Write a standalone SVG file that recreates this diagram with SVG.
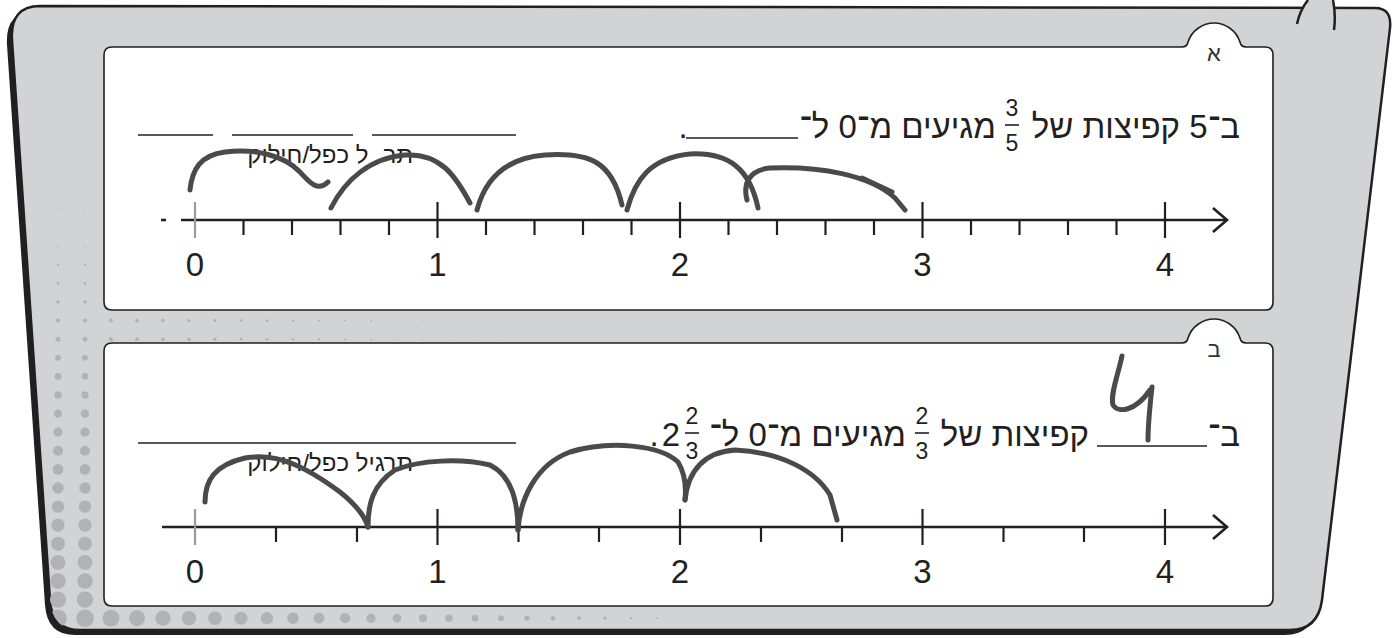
<svg xmlns="http://www.w3.org/2000/svg" width="1400" height="638" viewBox="0 0 1400 638">
<style>
.t{font-family:"Liberation Sans",Arial,"Noto Sans",sans-serif;fill:#231f20}
.h{font-size:33px}
.fr{font-size:23px}
.sm{font-size:24px}
.num{font-size:33px}
.tab{font-size:22px;fill:#333}
.ax{stroke:#231f20;stroke-width:2.6;fill:none}
.tk{stroke:#231f20;stroke-width:2.2}
.z{stroke:#9a9a9a;stroke-width:2.2}
.ln{stroke:#231f20;stroke-width:1.6}
.hw{fill:none;stroke:#4a4a4a;stroke-width:5;stroke-linecap:round;stroke-linejoin:round}
.pn{fill:#fff;stroke:#231f20;stroke-width:1.6}
.d{fill:#b1b2b4}
</style>
<defs>
<clipPath id="fc"><path d="M40,6 L1375,8 Q1392,8 1390,28 L1322,600 Q1318,630 1290,630 L80,630 Q52,630 50,600 L12,40 Q10,6 40,6 Z"/></clipPath>
</defs>
<g id="frame">
<path d="M40,6 L1375,8 Q1392,8 1390,28 L1322,600 Q1318,630 1290,630 L80,630 Q52,630 50,600 L12,40 Q10,6 40,6 Z" transform="translate(-5,5)" fill="#231f20"/>
<path d="M40,6 L1375,8 Q1392,8 1390,28 L1322,600 Q1318,630 1290,630 L80,630 Q52,630 50,600 L12,40 Q10,6 40,6 Z" fill="#d1d3d4" stroke="#231f20" stroke-width="2.5"/>
<path d="M1297,24 Q1300,10 1308,0 L1333,0 Q1336,15 1334,30 Z" fill="#d1d3d4"/>
<path d="M1297,24 Q1300,10 1308,0 M1333,0 Q1336,15 1334,30" fill="none" stroke="#231f20" stroke-width="2.5"/>
<g clip-path="url(#fc)" class="d">
<circle cx="58" cy="209" r="0.5"/><circle cx="85" cy="209" r="0.5"/>
<circle cx="58" cy="227.6" r="0.6"/><circle cx="85" cy="227.6" r="0.6"/>
<circle cx="58" cy="246.2" r="0.8"/><circle cx="85" cy="246.2" r="0.8"/>
<circle cx="58" cy="264.8" r="1.1"/><circle cx="85" cy="264.8" r="1.1"/>
<circle cx="58" cy="283.4" r="1.4"/><circle cx="85" cy="283.4" r="1.4"/>
<circle cx="58" cy="302" r="1.7"/><circle cx="85" cy="302" r="1.7"/>
<circle cx="58" cy="320.6" r="2.1"/><circle cx="85" cy="320.6" r="2.1"/>
<circle cx="58" cy="339.2" r="2.5"/><circle cx="85" cy="339.2" r="2.5"/>
<circle cx="58" cy="357.8" r="2.9"/><circle cx="85" cy="357.8" r="2.9"/>
<circle cx="58" cy="376.4" r="3.3"/><circle cx="85" cy="376.4" r="3.3"/>
<circle cx="58" cy="395" r="3.7"/><circle cx="85" cy="395" r="3.7"/>
<circle cx="58" cy="413.6" r="4.2"/><circle cx="85" cy="413.6" r="4.2"/>
<circle cx="58" cy="432.2" r="4.6"/><circle cx="85" cy="432.2" r="4.6"/>
<circle cx="58" cy="450.8" r="5"/><circle cx="85" cy="450.8" r="5"/>
<circle cx="58" cy="469.4" r="5.4"/><circle cx="85" cy="469.4" r="5.4"/>
<circle cx="58" cy="488" r="5.8"/><circle cx="85" cy="488" r="5.8"/>
<circle cx="58" cy="506.6" r="6.2"/><circle cx="85" cy="506.6" r="6.2"/>
<circle cx="58" cy="525.2" r="6.6"/><circle cx="85" cy="525.2" r="6.6"/>
<circle cx="58" cy="543.8" r="7"/><circle cx="85" cy="543.8" r="7"/>
<circle cx="58" cy="562.4" r="7.4"/><circle cx="85" cy="562.4" r="7.4"/>
<circle cx="58" cy="581" r="7.8"/><circle cx="85" cy="581" r="7.8"/>
<circle cx="58" cy="599.6" r="8.2"/><circle cx="85" cy="599.6" r="8.2"/>
<circle cx="58" cy="618.2" r="8.8"/><circle cx="85" cy="618.2" r="8.8"/>
<circle cx="111" cy="320.6" r="2"/><circle cx="137" cy="320.6" r="1.9"/><circle cx="163" cy="320.6" r="1.8"/><circle cx="189" cy="320.6" r="1.7"/><circle cx="215" cy="320.6" r="1.6"/><circle cx="241" cy="320.6" r="1.4"/><circle cx="267" cy="320.6" r="1.3"/><circle cx="293" cy="320.6" r="1.2"/><circle cx="319" cy="320.6" r="1.1"/><circle cx="345" cy="320.6" r="1"/><circle cx="371" cy="320.6" r="0.9"/><circle cx="397" cy="320.6" r="0.7"/><circle cx="423" cy="320.6" r="0.6"/><circle cx="449" cy="320.6" r="0.5"/><circle cx="475" cy="320.6" r="0.4"/><circle cx="501" cy="320.6" r="0.3"/>
<circle cx="111" cy="339.2" r="2"/><circle cx="137" cy="339.2" r="1.9"/><circle cx="163" cy="339.2" r="1.8"/><circle cx="189" cy="339.2" r="1.7"/><circle cx="215" cy="339.2" r="1.6"/><circle cx="241" cy="339.2" r="1.4"/><circle cx="267" cy="339.2" r="1.3"/><circle cx="293" cy="339.2" r="1.2"/><circle cx="319" cy="339.2" r="1.1"/><circle cx="345" cy="339.2" r="1"/><circle cx="371" cy="339.2" r="0.9"/><circle cx="397" cy="339.2" r="0.7"/><circle cx="423" cy="339.2" r="0.6"/><circle cx="449" cy="339.2" r="0.5"/><circle cx="475" cy="339.2" r="0.4"/><circle cx="501" cy="339.2" r="0.3"/>
<circle cx="111" cy="618.2" r="8.4"/><circle cx="137" cy="618.2" r="8"/><circle cx="163" cy="618.2" r="7.6"/><circle cx="189" cy="618.2" r="7.2"/><circle cx="215" cy="618.2" r="6.8"/><circle cx="241" cy="618.2" r="6.5"/><circle cx="267" cy="618.2" r="6.1"/><circle cx="293" cy="618.2" r="5.8"/><circle cx="319" cy="618.2" r="5.4"/><circle cx="345" cy="618.2" r="5.1"/><circle cx="371" cy="618.2" r="4.7"/><circle cx="397" cy="618.2" r="4.4"/><circle cx="423" cy="618.2" r="4"/><circle cx="449" cy="618.2" r="3.7"/><circle cx="475" cy="618.2" r="3.3"/><circle cx="501" cy="618.2" r="3"/><circle cx="527" cy="618.2" r="2.6"/><circle cx="553" cy="618.2" r="2.3"/><circle cx="579" cy="618.2" r="1.9"/><circle cx="605" cy="618.2" r="1.6"/><circle cx="631" cy="618.2" r="1.2"/><circle cx="657" cy="618.2" r="0.9"/><circle cx="683" cy="618.2" r="0.5"/><circle cx="709" cy="618.2" r="0.3"/>
</g>
</g>
<g id="panel-a">
<path class="pn" d="M112,47 L1182,47 Q1187,47 1188,42 C1192,30 1203,23 1214,23 C1225,23 1236,30 1240,42 Q1241,47 1246,47 L1265,47 Q1273,47 1273,55 L1273,302 Q1273,310 1265,310 L112,310 Q104,310 104,302 L104,55 Q104,47 112,47 Z"/>
<text class="t tab" x="1214" y="61" text-anchor="middle">א</text>
<text class="t h" x="1240" y="138" text-anchor="end">ב־5 קפיצות של</text>
<text class="t fr" x="1012" y="116" text-anchor="middle">3</text>
<line class="ln" x1="1005" y1="125" x2="1019" y2="125"/>
<text class="t fr" x="1012" y="151" text-anchor="middle">5</text>
<text class="t h" x="996" y="138" text-anchor="end">מגיעים מ־0 ל־</text>
<line class="ln" x1="686" y1="138" x2="798" y2="138"/>
<text class="t h" x="683" y="138" text-anchor="middle">.</text>
<line class="ln" x1="138" y1="135" x2="213" y2="135"/>
<line class="ln" x1="232" y1="135" x2="353" y2="135"/>
<line class="ln" x1="372" y1="135" x2="516" y2="135"/>
<text class="t sm" x="413" y="163" text-anchor="end">תר<tspan fill-opacity="0">גי</tspan>ל כפל/חילוק</text>
<line class="ax" x1="181" y1="220" x2="1226" y2="220"/>
<line class="ax" x1="161" y1="220" x2="166" y2="220"/>
<polyline class="ax" points="1213,208 1227,220 1213,232"/>
<line class="z" x1="195" y1="202" x2="195" y2="238"/>
<g class="tk">
<line x1="437.5" y1="202" x2="437.5" y2="238"/><line x1="680" y1="202" x2="680" y2="238"/><line x1="922.5" y1="202" x2="922.5" y2="238"/><line x1="1165" y1="202" x2="1165" y2="238"/>
<line x1="243.5" y1="220" x2="243.5" y2="235"/><line x1="292" y1="220" x2="292" y2="235"/><line x1="340.5" y1="220" x2="340.5" y2="235"/><line x1="389" y1="220" x2="389" y2="235"/>
<line x1="486" y1="220" x2="486" y2="235"/><line x1="534.5" y1="220" x2="534.5" y2="235"/><line x1="583" y1="220" x2="583" y2="235"/><line x1="631.5" y1="220" x2="631.5" y2="235"/>
<line x1="728.5" y1="220" x2="728.5" y2="235"/><line x1="777" y1="220" x2="777" y2="235"/><line x1="825.5" y1="220" x2="825.5" y2="235"/><line x1="874" y1="220" x2="874" y2="235"/>
<line x1="971" y1="220" x2="971" y2="235"/><line x1="1019.5" y1="220" x2="1019.5" y2="235"/><line x1="1068" y1="220" x2="1068" y2="235"/><line x1="1116.5" y1="220" x2="1116.5" y2="235"/>
</g>
<g class="t num" text-anchor="middle">
<text x="195" y="276">0</text><text x="437.5" y="276">1</text><text x="680" y="276">2</text><text x="922.5" y="276">3</text><text x="1165" y="276">4</text>
</g>
</g>
<g id="panel-b">
<path class="pn" d="M112,343 L1182,343 Q1187,343 1188,338 C1192,326 1203,319 1214,319 C1225,319 1236,326 1240,338 Q1241,343 1246,343 L1265,343 Q1273,343 1273,351 L1273,598 Q1273,606 1265,606 L112,606 Q104,606 104,598 L104,351 Q104,343 112,343 Z"/>
<text class="t tab" x="1214" y="357" text-anchor="middle">ב</text>
<text class="t h" x="1240" y="446" text-anchor="end">ב־</text>
<line class="ln" x1="1097" y1="446" x2="1207" y2="446"/>
<text class="t h" x="1089" y="446" text-anchor="end">קפיצות של</text>
<text class="t fr" x="922" y="424" text-anchor="middle">2</text>
<line class="ln" x1="915" y1="433" x2="929" y2="433"/>
<text class="t fr" x="922" y="459" text-anchor="middle">3</text>
<text class="t h" x="906" y="446" text-anchor="end">מגיעים מ־0 ל־</text>
<text class="t h" x="671" y="446" text-anchor="middle">2</text>
<text class="t fr" x="692" y="424" text-anchor="middle">2</text>
<line class="ln" x1="685" y1="433" x2="699" y2="433"/>
<text class="t fr" x="692" y="459" text-anchor="middle">3</text>
<text class="t h" x="654" y="446" text-anchor="middle">.</text>
<line class="ln" x1="138" y1="443" x2="516" y2="443"/>
<text class="t sm" x="413" y="471" text-anchor="end">תרגיל כפל/חילוק</text>
<line class="ax" x1="162" y1="527" x2="1226" y2="527"/>
<polyline class="ax" points="1213,515 1227,527 1213,539"/>
<line class="z" x1="195" y1="509" x2="195" y2="545"/>
<g class="tk">
<line x1="437.5" y1="509" x2="437.5" y2="545"/><line x1="680" y1="509" x2="680" y2="545"/><line x1="922.5" y1="509" x2="922.5" y2="545"/><line x1="1165" y1="509" x2="1165" y2="545"/>
<line x1="276" y1="527" x2="276" y2="542"/><line x1="357" y1="527" x2="357" y2="542"/>
<line x1="518.5" y1="527" x2="518.5" y2="542"/><line x1="599" y1="527" x2="599" y2="542"/>
<line x1="761" y1="527" x2="761" y2="542"/><line x1="842" y1="527" x2="842" y2="542"/>
<line x1="1003.5" y1="527" x2="1003.5" y2="542"/><line x1="1084" y1="527" x2="1084" y2="542"/>
</g>
<g class="t num" text-anchor="middle">
<text x="195" y="583">0</text><text x="437.5" y="583">1</text><text x="680" y="583">2</text><text x="922.5" y="583">3</text><text x="1165" y="583">4</text>
</g>
</g>
<g id="jumps" class="hw">
<path d="M190,190 C192,170 200,155 225,152 C255,148 285,156 300,172 C310,183 318,192 328,182"/>
<path d="M331,208 C345,180 370,158 405,155 C440,153 455,175 470,203"/>
<path d="M477,210 C485,180 505,158 545,155 C590,152 612,162 622,205"/>
<path d="M627,210 C635,180 650,158 690,154 C730,152 750,170 758,208"/>
<path d="M747,200 C743,185 748,170 770,168 C820,166 870,175 895,198 L905,210"/>
<path d="M862,178 L892,192"/>
<path d="M205,502 C205,480 215,465 245,458 C280,452 310,470 340,492 C360,508 366,520 368,527"/>
<path d="M368,527 C368,505 372,485 395,470 C420,460 460,458 490,465 C510,475 518,500 518,530"/>
<path d="M518,530 C520,500 535,465 570,452 C610,440 660,445 678,462 C686,475 686,490 685,500"/>
<path d="M685,500 C688,470 705,452 735,450 C780,452 815,470 830,495 L837,520"/>
<path d="M1122,356 C1118,375 1110,395 1113,405 C1118,413 1135,412 1150,390 M1152,387 C1150,405 1148,425 1148,440"/>
</g>
</svg>
